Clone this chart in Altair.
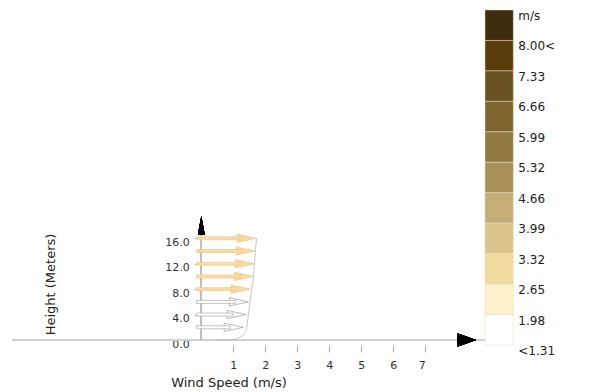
import altair as alt
import pandas as pd

# ---- data ----
heights = [2, 4, 6, 8, 10, 12, 14, 16]
arrow_speed = [1.31, 1.40, 1.47, 1.52, 1.63, 1.66, 1.68, 1.71]

profile_speed = [0.45, 0.70, 0.90, 1.05, 1.20, 1.28, 1.36, 1.42, 1.47, 1.52, 1.58, 1.63, 1.66, 1.69, 1.73]
profile_height = [0.0, 0.0, 0.03, 0.12, 0.40, 0.70, 1.2, 2.0, 4.0, 6.0, 8.0, 10.0, 12.0, 14.0, 16.0]

x_ticks = [1, 2, 3, 4, 5, 6, 7]
y_ticks = [0, 4, 8, 12, 16]

legend_labels = ["m/s", "8.00<", "7.33", "6.66", "5.99", "5.32", "4.66",
                 "3.99", "3.32", "2.65", "1.98", "<1.31"]
legend_colors = ["#3f2b0d", "#5a3d0b", "#6c5123", "#7f6430", "#917843", "#a9905a",
                 "#c6ad77", "#dcc48f", "#f2dba0", "#fdf0cd", "#ffffff"]

FONT = "DejaVu Sans"
ARROW_START = -0.15

arrows = pd.DataFrame({"height": heights, "speed": arrow_speed, "start": ARROW_START})
profile = pd.DataFrame({"speed": profile_speed, "height": profile_height})

XS = alt.Scale(domain=[0, 7], range=[193.3, 417.3], nice=False, zero=False)
YS = alt.Scale(domain=[0, 16], range=[337, 225.3], nice=False, zero=False)

colored = "datum.height >= 8"
fill_c = alt.condition(colored, alt.value("#f9dba4"), alt.value("#ffffff"))
stroke_c = alt.condition(colored, alt.value("#ecc991"), alt.value("#a8a8a8"))

PLOT_H = 382

x_axis = alt.Axis(values=x_ticks, format="d", offset=337 - PLOT_H, domain=False, grid=False,
                  tickSize=7, tickColor="#b5b5b5", labelFont=FONT, labelFontSize=11,
                  labelColor="#333333", labelPadding=7, title="Wind Speed (m/s)",
                  titleFont=FONT, titleFontSize=13, titleFontWeight="normal",
                  titleColor="#222222", titleX=220.5, titleY=37.5,
                  titleAlign="center", titleBaseline="middle")
y_axis = alt.Axis(values=y_ticks, format=".1f", offset=-193.3, domain=False, grid=False,
                  tickSize=7, tickColor="#b5b5b5", labelFont=FONT, labelFontSize=11,
                  labelColor="#333333", labelPadding=5, labelOffset=4,
                  title="Height (Meters)", titleFont=FONT, titleFontSize=13,
                  titleFontWeight="normal", titleColor="#222222", titleX=-151.3, titleY=276,
                  titleAlign="center", titleBaseline="middle", titleAngle=-90)

hline = alt.Chart(profile).mark_rule(color="#d0d0d0", strokeWidth=1).encode(
    x=alt.value(4), x2=alt.value(477), y=alt.datum(0, scale=YS))

vline = alt.Chart(profile).mark_rule(color="#bdbdbd", strokeWidth=1).encode(
    x=alt.datum(0, scale=XS), y=alt.datum(0, scale=YS), y2=alt.datum(16.7))

h_tri = alt.Chart(profile).mark_point(shape="M-1,-0.7L1,0L-1,0.7Z", size=361, filled=True,
                                       color="black", opacity=1, strokeWidth=0).encode(
    x=alt.datum(8.29, scale=XS), y=alt.datum(0, scale=YS))
v_tri = alt.Chart(profile).mark_point(shape="M-0.37,1L0,-1L0.37,1Z", size=324, filled=True,
                                       color="black", opacity=1, strokeWidth=0).encode(
    x=alt.datum(0, scale=XS), y=alt.datum(18.05, scale=YS))

curve = alt.Chart(profile).mark_line(color="#b8b8b8", strokeWidth=0.8,
                                     interpolate="monotone").encode(
    x=alt.X("speed:Q", scale=XS, axis=x_axis),
    y=alt.Y("height:Q", scale=YS, axis=y_axis),
    order="speed:Q")

heads = alt.Chart(arrows).mark_point(shape="M-1,-0.44L1,0L-1,0.44Z", size=361, filled=True,
                                      opacity=1, strokeWidth=0.8, xOffset=-9.5).encode(
    x=alt.X("speed:Q", scale=XS), y=alt.Y("height:Q", scale=YS),
    fill=fill_c, stroke=stroke_c)

shafts = alt.Chart(arrows).mark_bar(orient="horizontal", size=3, x2Offset=-13,
                                    strokeWidth=0.7).encode(
    x=alt.X("start:Q", scale=XS), x2="speed:Q", y=alt.Y("height:Q", scale=YS),
    fill=fill_c, stroke=stroke_c)

main = alt.layer(hline, vline, curve, heads, shafts, h_tri, v_tri)

# ---- colour bar ----
cb = pd.DataFrame({"name": legend_labels[:-1],
                   "top": list(range(len(legend_colors))),
                   "bottom": [i + 1 for i in range(len(legend_colors))]})
lab = pd.DataFrame({"label": legend_labels, "pos": list(range(len(legend_labels)))})
CBS = alt.Scale(domain=[0, 11], range=[2, 337], nice=False, zero=False)

bar_rects = alt.Chart(cb).mark_rect(stroke="#e6dabb", strokeWidth=0.5).encode(
    x=alt.value(477), x2=alt.value(505.3),
    y=alt.Y("top:Q", scale=CBS, axis=None), y2="bottom:Q",
    fill=alt.Fill("name:N", scale=alt.Scale(domain=legend_labels[:-1], range=legend_colors),
                  legend=None))
bar_text = alt.Chart(lab).mark_text(align="left", baseline="middle", dy=6, font=FONT,
                                    fontSize=12, color="#222222").encode(
    x=alt.value(510.3), y=alt.Y("pos:Q", scale=CBS, axis=None), text="label:N")

colorbar = alt.layer(bar_rects, bar_text)

chart = alt.layer(main, colorbar).resolve_scale(y="independent").properties(
    width=573, height=PLOT_H, padding=0,
    autosize=alt.AutoSizeParams(type="none"), background="white"
).configure_view(stroke=None)

chart.save("out.html", embed_options={"renderer": "svg", "actions": False})
